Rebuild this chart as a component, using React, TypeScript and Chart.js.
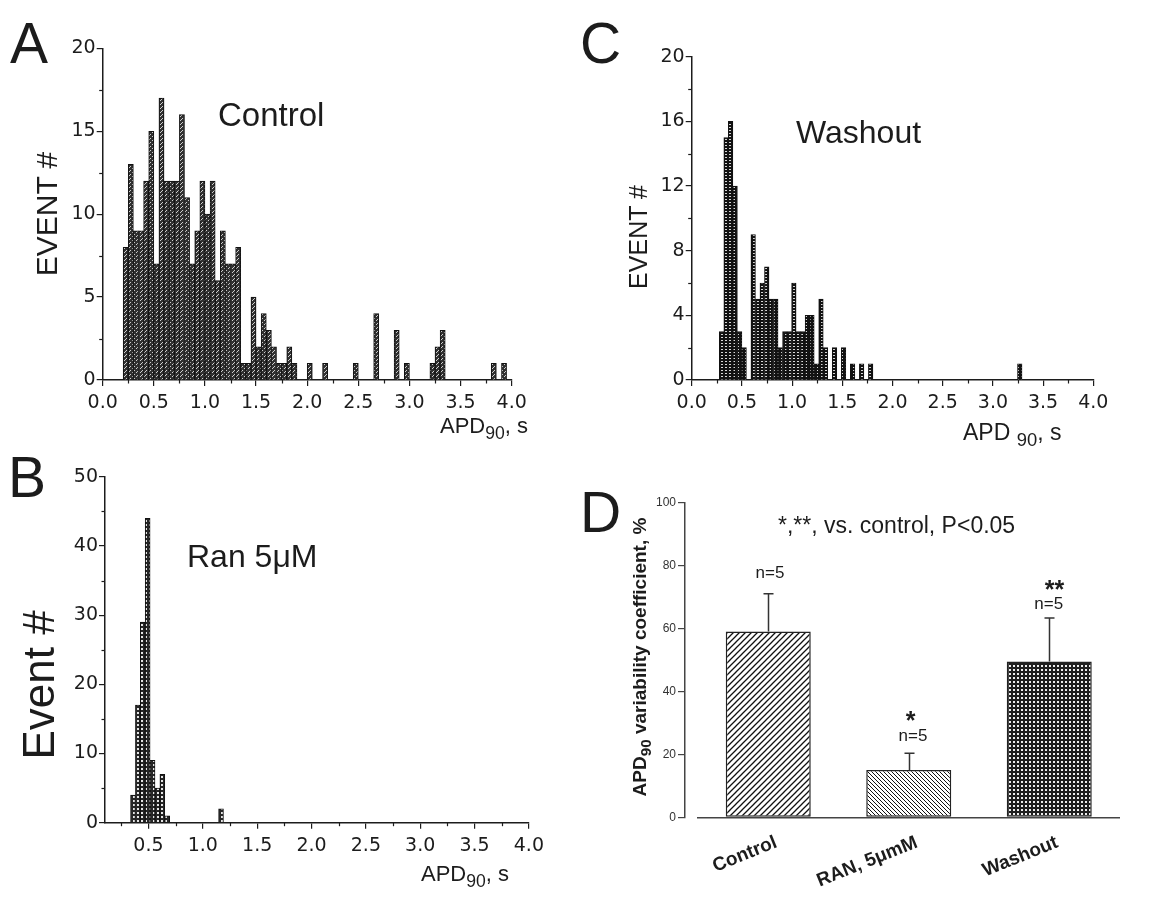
import React, { useEffect, useRef } from 'react';
import { Chart, registerables } from 'chart.js';
Chart.register(...registerables);

// ---------- DATA ----------
// Panel A: Control histogram (bin counts, consecutive bins)
const controlBinStart = 0.2;
const controlBinWidth = 0.05;
const controlCounts = [
  8, 13, 9, 9, 12, 15, 7, 17, 12, 12,
  12, 16, 11, 7, 9, 12, 10, 12, 6, 9,
  7, 7, 8, 1, 1, 5, 2, 4, 3, 2,
  1, 1, 2, 1, 0, 0, 1, 0, 0, 1,
  0, 0, 0, 0, 0, 1, 0, 0, 0, 4,
  0, 0, 0, 3, 0, 1, 0, 0, 0, 0,
  1, 2, 3, 0, 0, 0, 0, 0, 0, 0,
  0, 0, 1, 0, 1,
];

// Panel B: Ran 5 µM histogram
const ranBinStart = 0.335;
const ranBinWidth = 0.045;
const ranCounts = [4, 17, 29, 44, 9, 5, 7, 1, 0, 0, 0, 0, 0, 0, 0, 0, 0, 0, 2];

// Panel C: Washout histogram
const washBinStart = 0.275;
const washBinWidth = 0.045;
const washCounts = [
  3, 15, 16, 12, 3, 2, 0, 9, 5, 6,
  7, 5, 5, 2, 3, 3, 6, 3, 3, 4,
  4, 1, 5, 2, 0, 2, 0, 2, 0, 1,
  0, 1, 0, 1,
  0, 0, 0, 0, 0, 0, 0, 0, 0, 0, 0, 0, 0, 0, 0, 0,
  0, 0, 0, 0, 0, 0, 0, 0, 0, 0, 0, 0, 0, 0, 0, 0,
  1,
];

// Tick values
const xTicksAC = [0, 0.5, 1, 1.5, 2, 2.5, 3, 3.5, 4];
const xMinorAC = [0.25, 0.75, 1.25, 1.75, 2.25, 2.75, 3.25, 3.75];
const xTicksB = [0.5, 1, 1.5, 2, 2.5, 3, 3.5, 4];
const xMinorB = [0.25, 0.75, 1.25, 1.75, 2.25, 2.75, 3.25, 3.75];
const yTicksA = [0, 5, 10, 15, 20];
const yMinorA = [2.5, 7.5, 12.5, 17.5];
const yTicksB = [0, 10, 20, 30, 40, 50];
const yMinorB = [5, 15, 25, 35, 45];
const yTicksC = [0, 4, 8, 12, 16, 20];
const yMinorC = [2, 6, 10, 14, 18];

// Panel D: variability coefficient
const groupLabels = ['Control', 'RAN, 5\u03bcmM', 'Washout'];
const groupMeans = [59, 15, 49.5];
const groupSE = [12, 5.3, 13.8];
const yTicksD = [0, 20, 40, 60, 80, 100];

// ---------- STYLE ----------
const FONT = "'Liberation Sans', Arial, Helvetica, sans-serif";
const TICKFONT = "'DejaVu Sans', 'Liberation Sans', sans-serif";
const INK = '#1c1c1c';

function makeTile(w: number, h: number, draw: (g: CanvasRenderingContext2D) => void) {
  const c = document.createElement('canvas');
  c.width = w;
  c.height = h;
  const g = c.getContext('2d')!;
  draw(g);
  return c;
}

function makeMinorTicks(xs: number[], ys: number[], len: number) {
  return {
    id: 'minorTicks',
    afterDraw(chart: any) {
      const { ctx } = chart;
      const sx = chart.scales.x;
      const sy = chart.scales.y;
      ctx.save();
      ctx.strokeStyle = INK;
      ctx.lineWidth = 1.2;
      xs.forEach((v) => {
        const px = Math.round(sx.getPixelForValue(v)) + 0.5;
        ctx.beginPath();
        ctx.moveTo(px, sx.top);
        ctx.lineTo(px, sx.top + len);
        ctx.stroke();
      });
      ys.forEach((v) => {
        const py = Math.round(sy.getPixelForValue(v)) + 0.5;
        ctx.beginPath();
        ctx.moveTo(sy.right, py);
        ctx.lineTo(sy.right - len, py);
        ctx.stroke();
      });
      ctx.restore();
    },
  };
}

const errorBarPlugin = {
  id: 'errorBars',
  afterDatasetsDraw(chart: any) {
    const meta = chart.getDatasetMeta(0);
    const sy = chart.scales.y;
    const { ctx } = chart;
    ctx.save();
    ctx.strokeStyle = '#333';
    ctx.lineWidth = 1.5;
    meta.data.forEach((bar: any, i: number) => {
      const top = sy.getPixelForValue(groupMeans[i] + groupSE[i]);
      const x = Math.round(bar.x) + 0.5;
      ctx.beginPath();
      ctx.moveTo(x, bar.y);
      ctx.lineTo(x, top);
      ctx.moveTo(x - 5, top);
      ctx.lineTo(x + 5, top);
      ctx.stroke();
    });
    ctx.restore();
  },
};

const shiftYAxisPlugin = {
  id: 'shiftY',
  afterLayout(chart: any) {
    const s = chart.scales.y;
    s.left -= 13;
    s.right -= 13;
  },
};

interface HistSpec {
  counts: number[];
  start: number;
  width: number;
  xmin: number;
  xmax: number;
  ymax: number;
  xTicks: number[];
  xMinor: number[];
  yTicks: number[];
  yMinor: number[];
  yWidth: number;
  pad: { top: number; right: number; bottom: number };
  pattern: CanvasPattern | string;
}

function histConfig(s: HistSpec): any {
  const points = s.counts
    .map((c, i) => ({ x: s.start + (i + 0.5) * s.width, y: c }))
    .filter((p) => p.y > 0);
  const gridOpts = { display: true, drawOnChartArea: false, drawTicks: true, tickLength: 6, color: INK, lineWidth: 1.2, offset: false };
  const borderOpts = { display: true, color: INK, width: 1.5 };
  return {
    type: 'bar',
    data: {
      datasets: [
        {
          data: points,
          backgroundColor: s.pattern,
          borderColor: '#111',
          borderWidth: 1,
          barPercentage: 1,
          categoryPercentage: 1,
          borderSkipped: 'bottom',
        },
      ],
    },
    options: {
      animation: false,
      responsive: false,
      maintainAspectRatio: false,
      layout: { padding: { left: 0, top: s.pad.top, right: s.pad.right, bottom: s.pad.bottom } },
      plugins: { legend: { display: false }, tooltip: { enabled: false } },
      scales: {
        x: {
          type: 'linear',
          offset: false,
          min: s.xmin,
          max: s.xmax,
          afterBuildTicks: (sc: any) => {
            sc.ticks = s.xTicks.map((v) => ({ value: v }));
          },
          afterFit: (sc: any) => {
            sc.height = 40;
          },
          ticks: {
            autoSkip: false,
            maxRotation: 0,
            minRotation: 0,
            padding: 6,
            color: INK,
            font: { family: TICKFONT, size: 19 },
            callback: (v: any) => Number(v).toFixed(1),
          },
          grid: gridOpts,
          border: borderOpts,
        },
        y: {
          type: 'linear',
          offset: false,
          min: 0,
          max: s.ymax,
          afterBuildTicks: (sc: any) => {
            sc.ticks = s.yTicks.map((v) => ({ value: v }));
          },
          afterFit: (sc: any) => {
            sc.width = s.yWidth;
          },
          ticks: {
            autoSkip: false,
            padding: 1,
            color: INK,
            font: { family: TICKFONT, size: 19 },
            callback: (v: any) => String(v),
          },
          grid: gridOpts,
          border: borderOpts,
        },
      },
    },
    plugins: [makeMinorTicks(s.xMinor, s.yMinor, 3.5)],
  };
}

function Txt(props: {
  x: number;
  y: number;
  size: number;
  bold?: boolean;
  middle?: boolean;
  children: React.ReactNode;
}) {
  const { x, y, size, bold, middle, children } = props;
  return (
    <div
      style={{
        position: 'absolute',
        left: x,
        top: y - 0.13 * size,
        fontSize: size,
        fontFamily: FONT,
        fontWeight: bold ? 700 : 400,
        lineHeight: 1,
        whiteSpace: 'nowrap',
        color: INK,
        transform: middle ? 'translateX(-50%)' : undefined,
      }}
    >
      {children}
    </div>
  );
}

function VTxt(props: { cx: number; cy: number; size: number; bold?: boolean; children: React.ReactNode }) {
  const { cx, cy, size, bold, children } = props;
  return (
    <div
      style={{
        position: 'absolute',
        left: cx,
        top: cy,
        transform: 'translate(-50%, -50%) rotate(-90deg)',
        fontSize: size,
        fontFamily: FONT,
        fontWeight: bold ? 700 : 400,
        lineHeight: 1,
        whiteSpace: 'nowrap',
        color: INK,
      }}
    >
      {children}
    </div>
  );
}

const Sub = ({ children }: { children: React.ReactNode }) => (
  <span style={{ fontSize: '0.8em', position: 'relative', top: '0.32em' }}>{children}</span>
);

export default function App() {
  const refA = useRef<HTMLCanvasElement>(null);
  const refB = useRef<HTMLCanvasElement>(null);
  const refC = useRef<HTMLCanvasElement>(null);
  const refD = useRef<HTMLCanvasElement>(null);

  useEffect(() => {
    const charts: Chart[] = [];

    const tileA = makeTile(4, 4, (g) => {
      g.fillStyle = '#303030';
      g.fillRect(0, 0, 4, 4);
      g.fillStyle = '#cfcfcf';
      g.fillRect(2, 0, 1, 1);
      g.fillRect(1, 1, 1, 1);
      g.fillRect(0, 2, 1, 1);
    });
    const tileB = makeTile(4, 4, (g) => {
      g.fillStyle = '#262626';
      g.fillRect(0, 0, 4, 4);
      g.fillStyle = '#e4e4e4';
      g.fillRect(1, 1, 2, 2);
    });
    const tileC = makeTile(4, 3, (g) => {
      g.fillStyle = '#121212';
      g.fillRect(0, 0, 4, 3);
      g.fillStyle = '#d6d6d6';
      g.fillRect(1, 1, 2, 1);
    });
    const tileCtrl = makeTile(6, 6, (g) => {
      g.fillStyle = '#ffffff';
      g.fillRect(0, 0, 6, 6);
      g.strokeStyle = '#111';
      g.lineWidth = 1.3;
      g.beginPath();
      g.moveTo(-1, 7);
      g.lineTo(7, -1);
      g.moveTo(-1, 1);
      g.lineTo(1, -1);
      g.moveTo(5, 7);
      g.lineTo(7, 5);
      g.stroke();
    });
    const tileRan = makeTile(4, 4, (g) => {
      g.fillStyle = '#ffffff';
      g.fillRect(0, 0, 4, 4);
      g.strokeStyle = '#111';
      g.lineWidth = 1;
      g.beginPath();
      g.moveTo(-1, -1);
      g.lineTo(5, 5);
      g.moveTo(3, -1);
      g.lineTo(5, 1);
      g.moveTo(-1, 3);
      g.lineTo(1, 5);
      g.stroke();
    });
    const tileWash = makeTile(4, 4, (g) => {
      g.fillStyle = '#1e1e1e';
      g.fillRect(0, 0, 4, 4);
      g.fillStyle = '#eeeeee';
      g.fillRect(1, 1, 2, 2);
    });

    const cA = refA.current!;
    const cB = refB.current!;
    const cC = refC.current!;
    const cD = refD.current!;
    const pat = (cv: HTMLCanvasElement, t: HTMLCanvasElement) =>
      cv.getContext('2d')!.createPattern(t, 'repeat') as CanvasPattern;

    charts.push(
      new Chart(
        cA,
        histConfig({
          counts: controlCounts,
          start: controlBinStart,
          width: controlBinWidth,
          xmin: 0,
          xmax: 4,
          ymax: 20,
          xTicks: xTicksAC,
          xMinor: xMinorAC,
          yTicks: yTicksA,
          yMinor: yMinorA,
          yWidth: 62.7,
          pad: { top: 18.3, right: 28.3, bottom: 10 },
          pattern: pat(cA, tileA),
        })
      )
    );
    charts.push(
      new Chart(
        cB,
        histConfig({
          counts: ranCounts,
          start: ranBinStart,
          width: ranBinWidth,
          xmin: 0.1,
          xmax: 4,
          ymax: 50,
          xTicks: xTicksB,
          xMinor: xMinorB,
          yTicks: yTicksB,
          yMinor: yMinorB,
          yWidth: 65,
          pad: { top: 21.7, right: 18.5, bottom: 12.3 },
          pattern: pat(cB, tileB),
        })
      )
    );
    charts.push(
      new Chart(
        cC,
        histConfig({
          counts: washCounts,
          start: washBinStart,
          width: washBinWidth,
          xmin: 0,
          xmax: 4,
          ymax: 20,
          xTicks: xTicksAC,
          xMinor: xMinorAC,
          yTicks: yTicksC,
          yMinor: yMinorC,
          yWidth: 71.7,
          pad: { top: 26.7, right: 26.7, bottom: 10 },
          pattern: pat(cC, tileC),
        })
      )
    );

    const dPats = [pat(cD, tileCtrl), pat(cD, tileRan), pat(cD, tileWash)];
    charts.push(
      new Chart(cD, {
        type: 'bar',
        data: {
          labels: groupLabels,
          datasets: [
            {
              data: groupMeans,
              backgroundColor: dPats,
              borderColor: '#222',
              borderWidth: 1.5,
              borderSkipped: false,
              barPercentage: 0.605,
              categoryPercentage: 1,
            },
          ],
        },
        options: {
          animation: false,
          responsive: false,
          maintainAspectRatio: false,
          layout: { padding: { left: 0, top: 22.3, right: 20.5, bottom: 0 } },
          plugins: { legend: { display: false }, tooltip: { enabled: false } },
          scales: {
            x: {
              type: 'category',
              afterFit: (sc: any) => {
                sc.height = 82.7;
              },
              grid: { display: false, drawTicks: false, tickLength: 0 },
              border: { display: true, color: '#444', width: 1.5 },
              ticks: {
                autoSkip: false,
                minRotation: 22,
                maxRotation: 22,
                labelOffset: 8,
                padding: 14,
                color: INK,
                font: { family: FONT, size: 19, weight: 'bold' },
              },
            },
            y: {
              type: 'linear',
              min: 0,
              max: 100,
              afterBuildTicks: (sc: any) => {
                sc.ticks = yTicksD.map((v) => ({ value: v }));
              },
              afterFit: (sc: any) => {
                sc.width = 118;
              },
              grid: { display: true, drawOnChartArea: false, drawTicks: true, tickLength: 7, color: '#444', lineWidth: 1.2 },
              border: { display: true, color: '#444', width: 1.5 },
              ticks: { padding: 2, color: '#333', font: { family: FONT, size: 12 } },
            },
          },
        } as any,
        plugins: [errorBarPlugin, shiftYAxisPlugin],
      } as any)
    );

    return () => charts.forEach((c) => c.destroy());
  }, []);

  const cv = (left: number, top: number): React.CSSProperties => ({ position: 'absolute', left, top });

  return (
    <div
      style={{
        position: 'fixed',
        left: 0,
        top: 0,
        width: 1155,
        height: 903,
        background: '#ffffff',
        overflow: 'hidden',
      }}
    >
      <canvas ref={refA} width={500} height={400} style={cv(40, 30)} />
      <canvas ref={refB} width={510} height={420} style={cv(40, 455)} />
      <canvas ref={refC} width={500} height={400} style={cv(620, 30)} />
      <canvas ref={refD} width={560} height={420} style={cv(580, 480)} />

      {/* panel letters */}
      <Txt x={10} y={22} size={57}>A</Txt>
      <Txt x={8} y={456} size={57}>B</Txt>
      <Txt x={580} y={22} size={57}>C</Txt>
      <Txt x={580} y={491} size={57}>D</Txt>

      {/* panel titles */}
      <Txt x={218} y={102} size={33}>Control</Txt>
      <Txt x={796} y={120} size={32}>Washout</Txt>
      <Txt x={187} y={544} size={32}>Ran 5{'\u03bc'}M</Txt>

      {/* axis titles */}
      <VTxt cx={46.5} cy={214} size={30}>EVENT #</VTxt>
      <VTxt cx={637.5} cy={237} size={25}>EVENT #</VTxt>
      <VTxt cx={38.5} cy={685} size={44}>Event #</VTxt>
      <Txt x={440} y={418} size={22}>
        APD<Sub>90</Sub>, s
      </Txt>
      <Txt x={421} y={866} size={22}>
        APD<Sub>90</Sub>, s
      </Txt>
      <Txt x={963} y={424} size={23}>
        APD <Sub>90</Sub>, s
      </Txt>

      {/* panel D annotations */}
      <Txt x={778} y={517} size={23}>*,**, vs. control, P&lt;0.05</Txt>
      <VTxt cx={638.5} cy={657} size={19} bold>
        APD<Sub>90</Sub> variability coefficient, %
      </VTxt>
      <Txt x={770} y={566} size={17} middle>n=5</Txt>
      <Txt x={913} y={729} size={17} middle>n=5</Txt>
      <Txt x={1048.7} y={597} size={17} middle>n=5</Txt>
      <Txt x={910.5} y={711.7} size={25} bold middle>*</Txt>
      <Txt x={1054.5} y={580} size={25} bold middle>**</Txt>
    </div>
  );
}
